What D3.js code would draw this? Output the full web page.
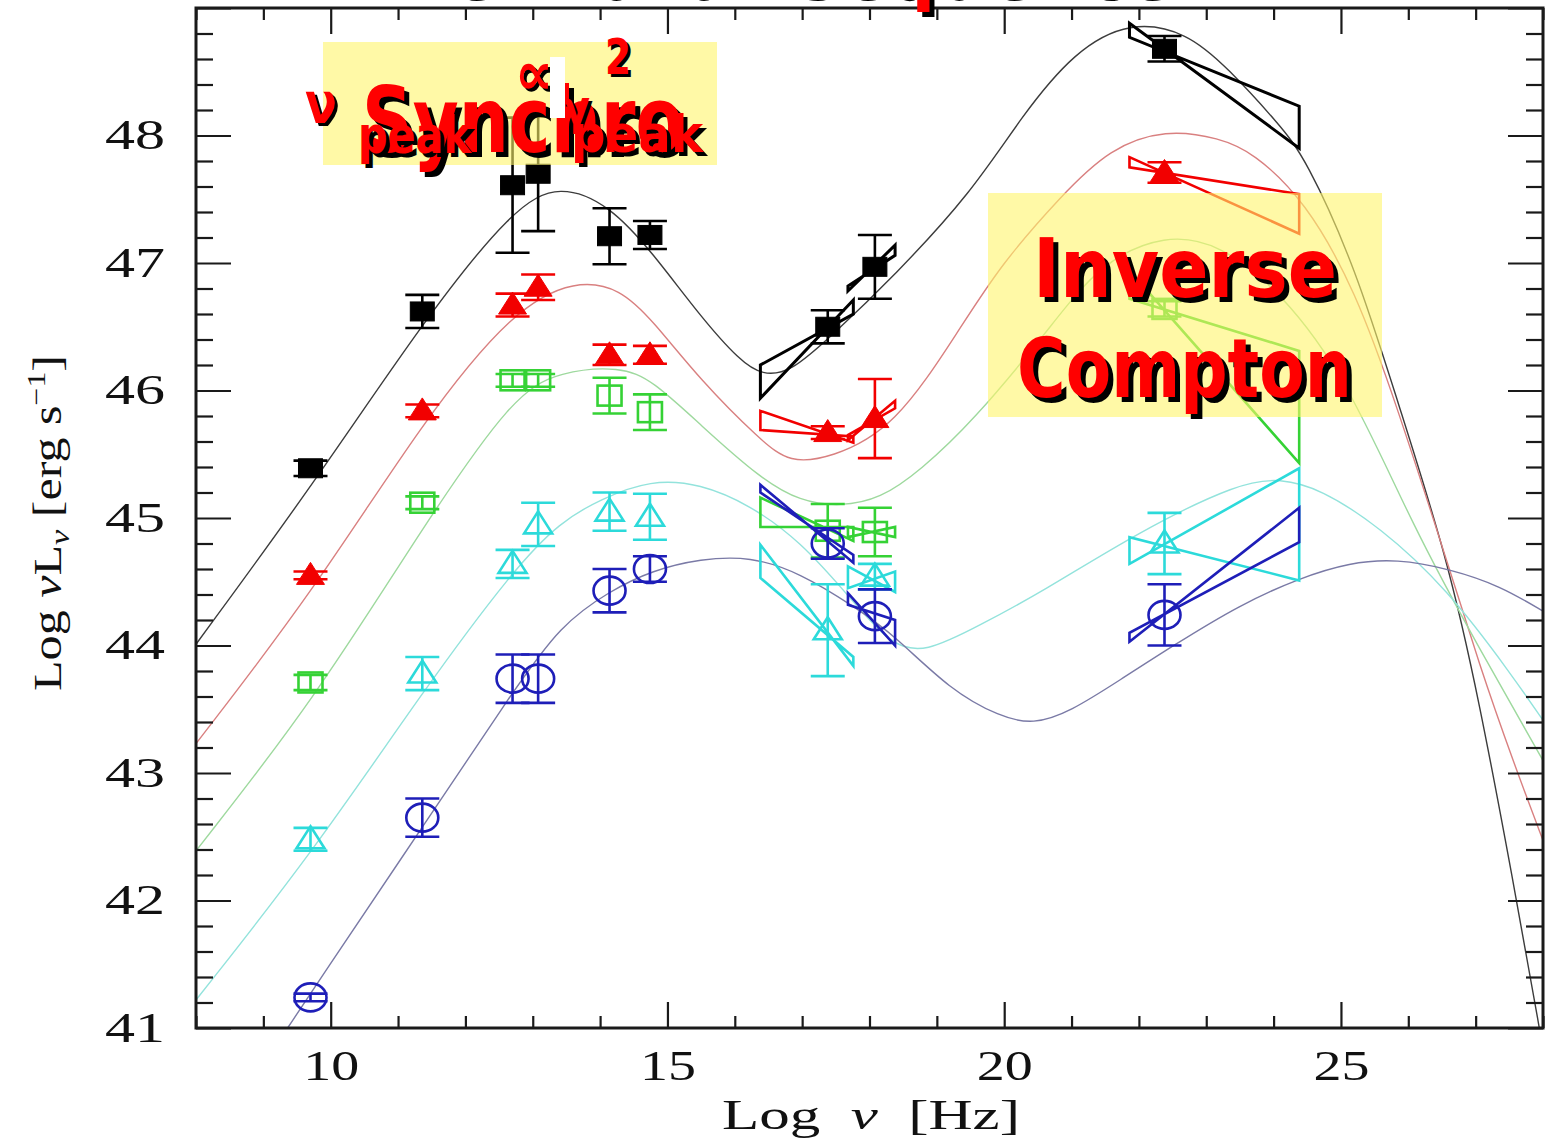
<!DOCTYPE html>
<html>
<head>
<meta charset="utf-8">
<script src="https://cdn.jsdelivr.net/npm/d3@7"></script>
<style>
  html, body { margin: 0; padding: 0; background: #fff; overflow: hidden; }
  svg { display: block; }
</style>
</head>
<body>
<svg id="chart" width="1545" height="1141"></svg>
<script>
// ---------------- data ----------------
// observing bands (log nu, Hz): 5 GHz, 230 GHz, 60um, 25um, K, V, 1 keV, 5 keV, 100 MeV
const bandNu = [9.70, 11.36, 12.70, 13.08, 14.14, 14.74, 17.38, 18.08, 22.38];

// average log(nu L_nu) per luminosity bin, with symmetric errors
const blackL   = [45.39, 46.62, 47.61, 47.70, 47.21, 47.22, 46.50, 46.97, 48.68];
const blackErr = [0.06, 0.13, 0.53, 0.45, 0.22, 0.11, 0.13, 0.25, 0.10];
const redL     = [44.55, 45.84, 46.67, 46.81, 46.28, 46.28, 45.67, 45.78, 47.71];
const redErr   = [0.03, 0.05, 0.09, 0.10, 0.08, 0.07, 0.05, 0.31, 0.08];
const greenL   = [43.71, 45.12, 46.08, 46.08, 45.96, 45.83, 44.90, 44.89, 46.64];
const greenErr = [0.06, 0.05, 0.05, 0.05, 0.14, 0.14, 0.21, 0.19, 0.06];
const cyanL    = [42.48, 43.78, 44.64, 44.95, 45.05, 45.01, 44.12, 44.54, 44.80];
const cyanErr  = [0.09, 0.13, 0.11, 0.17, 0.15, 0.18, 0.36, 0.10, 0.24];
const blueL    = [41.24, 42.65, 43.74, 43.74, 44.43, 44.60, 44.80, 44.23, 44.24];
const blueErr  = [0.03, 0.15, 0.19, 0.19, 0.17, 0.10, 0.12, 0.21, 0.24];

// spectral bowties: [lineA_left, lineA_right, lineB_left, lineB_right]
const softXRange = [16.38, 17.76];
const hardXRange = [17.68, 18.38];
const gammaRange = [21.86, 24.38];
const blackSoft  = [45.94, 46.71, 46.20, 46.60];
const blackHard  = [46.78, 47.14, 46.82, 47.06];
const blackGamma = [48.88, 47.90, 48.77, 48.23];
const redSoft    = [45.84, 45.59, 45.69, 45.64];
const redHard    = [45.61, 45.92, 45.65, 45.86];
const redGamma   = [47.83, 47.23, 47.75, 47.54];
const greenSoft  = [45.16, 44.82, 44.93, 44.93];
const greenHard  = [44.85, 44.93, 44.93, 44.85];
const greenGamma = [46.94, 45.43, 46.72, 46.31];
const cyanSoft   = [44.79, 43.84, 44.53, 43.91];
const cyanHard   = [44.62, 44.42, 44.45, 44.58];
const cyanGamma  = [44.64, 45.39, 44.85, 44.51];
const blueSoft   = [45.26, 44.65, 45.20, 44.71];
const blueHard   = [44.41, 44.00, 44.32, 44.20];
const blueGamma  = [44.03, 45.08, 44.10, 44.81];

// SED model curves, sampled [log nu, log nuL_nu]
const blackModel = [[8.0,44.01],[9.75,45.27],[11.38,46.55],[12.72,47.44],[13.41,47.62],[14.15,47.45],
  [14.78,47.08],[15.49,46.58],[16.08,46.23],[16.41,46.12],[16.82,46.14],[17.42,46.42],[18.37,46.90],
  [19.51,47.55],[20.27,48.16],[21.04,48.66],[21.87,48.90],[22.72,48.81],[23.32,48.53],[24.08,48.09],
  [24.47,47.83],[25.22,46.96],[25.83,45.93],[26.57,44.71],[27.06,43.55],[27.55,42.17],[27.95,41.0],[28.1,40.5]];
const redModel = [[8.0,43.23],[9.75,44.43],[11.38,45.77],[12.72,46.64],[13.64,46.87],[14.30,46.80],
  [14.78,46.55],[15.49,46.08],[16.38,45.61],[16.82,45.43],[17.42,45.47],[18.37,45.70],[19.35,46.49],
  [19.94,46.98],[20.85,47.53],[21.57,47.90],[22.40,48.05],[23.20,47.98],[23.69,47.87],[24.47,47.49],
  [25.22,46.78],[25.83,45.88],[26.57,44.67],[27.06,43.84],[27.55,43.10],[28.03,42.43]];
const greenModel = [[8.0,42.39],[9.75,43.57],[11.38,44.94],[12.72,45.97],[13.41,46.15],[14.30,46.19],
  [14.78,46.08],[15.49,45.73],[16.38,45.31],[16.97,45.13],[17.57,45.09],[18.16,45.15],[18.75,45.37],
  [19.54,45.76],[20.65,46.47],[21.41,47.00],[22.40,47.23],[23.20,47.15],[24.10,46.78],[25.09,46.09],
  [26.07,44.93],[27.06,43.97],[28.03,43.07]];
const cyanModel = [[8.0,41.22],[9.75,42.39],[11.38,43.65],[12.72,44.60],[13.41,44.97],[14.01,45.15],
  [14.75,45.30],[15.49,45.27],[16.23,45.10],[16.97,44.82],[17.72,44.37],[18.31,44.00],[18.83,43.94],
  [19.64,44.16],[20.53,44.41],[22.02,44.90],[23.50,45.28],[24.10,45.31],[24.69,45.23],[25.58,44.93],
  [26.57,44.45],[27.55,43.76],[28.03,43.39]];
const blueModel = [[9.36,41.0],[9.80,41.35],[11.38,42.59],[12.72,43.65],[13.41,44.16],[14.15,44.43],
  [14.78,44.59],[15.49,44.68],[16.23,44.70],[16.97,44.57],[17.79,44.30],[18.37,44.08],[19.20,43.65],
  [19.94,43.44],[20.43,43.38],[20.98,43.48],[21.72,43.73],[22.51,44.00],[23.50,44.32],[24.39,44.53],
  [25.13,44.65],[25.83,44.68],[26.62,44.60],[27.36,44.47],[28.03,44.26]];

// axes
const xMajorTicks = [10, 15, 20, 25];
const yMajorTicks = [41, 42, 43, 44, 45, 46, 47, 48, 49];
const yTickLabels = ["41", "42", "43", "44", "45", "46", "47", "48", ""];

// ---------------- layout ----------------
const svg = d3.select("#chart");
const x = d3.scaleLinear().domain([8, 28]).range([196, 1543]);
const y = d3.scaleLinear().domain([41, 49]).range([1028, 8]);
const X0 = x.range()[0], X1 = x.range()[1], Y0 = y.range()[1], Y1 = y.range()[0];

const series = [
  { L: blackL, err: blackErr, color: "#000000", curveColor: "#3c3c3c", marker: "square",   fill: true,  model: blackModel, soft: blackSoft, hard: blackHard, gamma: blackGamma, bw: 3 },
  { L: redL,   err: redErr,   color: "#f20000", curveColor: "#d98080", marker: "triangle", fill: true,  model: redModel,   soft: redSoft,   hard: redHard,   gamma: redGamma,   bw: 2.6 },
  { L: greenL, err: greenErr, color: "#35d235", curveColor: "#9ed99e", marker: "square",   fill: false, model: greenModel, soft: greenSoft, hard: greenHard, gamma: greenGamma, bw: 2.6 },
  { L: cyanL,  err: cyanErr,  color: "#2cdada", curveColor: "#93e3dc", marker: "triangle", fill: false, model: cyanModel,  soft: cyanSoft,  hard: cyanHard,  gamma: cyanGamma,  bw: 2.6 },
  { L: blueL,  err: blueErr,  color: "#1e1eb8", curveColor: "#7a7aa6", marker: "circle",   fill: false, model: blueModel,  soft: blueSoft,  hard: blueHard,  gamma: blueGamma,  bw: 2.6 }
];

svg.append("defs").append("clipPath").attr("id", "plotClip")
  .append("rect").attr("x", X0).attr("y", Y0).attr("width", X1 - X0).attr("height", Y1 - Y0);

// ---------------- model curves ----------------
const line = d3.line().x(d => x(d[0])).y(d => y(d[1])).curve(d3.curveBasis);
const curveG = svg.append("g").attr("clip-path", "url(#plotClip)");
series.forEach(s => {
  curveG.append("path").attr("d", line(s.model))
    .attr("fill", "none").attr("stroke", s.curveColor).attr("stroke-width", 1.4);
});

// ---------------- bowties, error bars, markers ----------------
const dataG = svg.append("g").attr("clip-path", "url(#plotClip)");
function bowtie(g, range, v, color, w) {
  const pts = [[range[0], v[0]], [range[1], v[1]], [range[1], v[3]], [range[0], v[2]]];
  g.append("path")
    .attr("d", "M" + pts.map(p => x(p[0]) + "," + y(p[1])).join("L") + "Z")
    .attr("fill", "none").attr("stroke", color).attr("stroke-width", w)
    .attr("stroke-linejoin", "miter");
}
const triPath = "M0,-13L14,9L-14,9Z";
series.forEach(s => {
  const g = dataG.append("g");
  bowtie(g, softXRange, s.soft, s.color, s.bw);
  bowtie(g, hardXRange, s.hard, s.color, s.bw);
  bowtie(g, gammaRange, s.gamma, s.color, s.bw);

  const pts = bandNu.map((v, i) => ({ v, L: s.L[i], e: s.err[i] }));
  const eb = g.selectAll(".eb").data(pts).enter().append("g")
    .attr("transform", d => `translate(${x(d.v)},0)`)
    .attr("stroke", s.color).attr("stroke-width", 2.6).attr("fill", "none");
  eb.append("line").attr("x1", 0).attr("x2", 0).attr("y1", d => y(d.L - d.e)).attr("y2", d => y(d.L + d.e));
  eb.append("line").attr("x1", -17).attr("x2", 17).attr("y1", d => y(d.L - d.e)).attr("y2", d => y(d.L - d.e));
  eb.append("line").attr("x1", -17).attr("x2", 17).attr("y1", d => y(d.L + d.e)).attr("y2", d => y(d.L + d.e));

  const m = g.selectAll(".mk").data(pts).enter().append("g")
    .attr("transform", d => `translate(${x(d.v)},${y(d.L)})`);
  const fill = s.fill ? s.color : "none";
  if (s.marker === "square") {
    const w = 24, h = s.fill ? 19 : 20;
    m.append("rect").attr("x", -w / 2).attr("y", -h / 2).attr("width", w).attr("height", h)
      .attr("fill", fill).attr("stroke", s.color).attr("stroke-width", s.fill ? 1 : 2.6);
  } else if (s.marker === "triangle") {
    m.append("path").attr("d", triPath)
      .attr("fill", fill).attr("stroke", s.color).attr("stroke-width", s.fill ? 1 : 2.6);
  } else {
    m.append("ellipse").attr("rx", 16).attr("ry", 14)
      .attr("fill", "none").attr("stroke", s.color).attr("stroke-width", 2.6);
  }
});

// ---------------- axes and frame ----------------
const serif = "'Liberation Serif', 'DejaVu Serif', serif";
const minorX = d3.range(8, 29).filter(v => v % 5 !== 0);
const minorY = d3.range(41, 49.01, 0.2).map(v => +v.toFixed(1)).filter(v => Math.abs(v - Math.round(v)) > 1e-6);

function styleAxis(g) {
  g.select(".domain").remove();
  g.selectAll(".tick line").attr("stroke", "#1a1a1a").attr("stroke-width", 2.2);
}
// bottom
svg.append("g").attr("transform", `translate(0,${Y1})`)
  .call(d3.axisBottom(x).tickValues(minorX).tickSize(-12).tickFormat("")).call(styleAxis);
const xb = svg.append("g").attr("transform", `translate(0,${Y1})`)
  .call(d3.axisBottom(x).tickValues(xMajorTicks).tickSize(-26).tickPadding(22).tickFormat(d3.format("d")))
  .call(styleAxis);
xb.selectAll("text").attr("font-family", serif).attr("font-size", 42).attr("fill", "#111")
  .attr("textLength", 56).attr("lengthAdjust", "spacingAndGlyphs");
// top
svg.append("g").attr("transform", `translate(0,${Y0})`)
  .call(d3.axisTop(x).tickValues(minorX).tickSize(-12).tickFormat("")).call(styleAxis);
svg.append("g").attr("transform", `translate(0,${Y0})`)
  .call(d3.axisTop(x).tickValues(xMajorTicks).tickSize(-26).tickFormat("")).call(styleAxis);
// left
svg.append("g").attr("transform", `translate(${X0},0)`)
  .call(d3.axisLeft(y).tickValues(minorY).tickSize(-17).tickFormat("")).call(styleAxis);
const yl = svg.append("g").attr("transform", `translate(${X0},0)`)
  .call(d3.axisLeft(y).tickValues(yMajorTicks).tickSize(-35).tickPadding(31)
    .tickFormat((d, i) => yTickLabels[i]))
  .call(styleAxis);
yl.selectAll("text").attr("font-family", serif).attr("font-size", 42).attr("fill", "#111")
  .attr("textLength", d => d === 49 ? null : 60).attr("lengthAdjust", "spacingAndGlyphs");
// right
svg.append("g").attr("transform", `translate(${X1},0)`)
  .call(d3.axisRight(y).tickValues(minorY).tickSize(-17).tickFormat("")).call(styleAxis);
svg.append("g").attr("transform", `translate(${X1},0)`)
  .call(d3.axisRight(y).tickValues(yMajorTicks).tickSize(-35).tickFormat("")).call(styleAxis);

svg.append("rect").attr("x", X0).attr("y", Y0).attr("width", X1 - X0).attr("height", Y1 - Y0)
  .attr("fill", "none").attr("stroke", "#1a1a1a").attr("stroke-width", 3);

// axis titles
const xt = svg.append("text").attr("x", 722).attr("y", 1129)
  .attr("font-family", serif).attr("font-size", 42).attr("fill", "#111")
  .attr("textLength", 298).attr("lengthAdjust", "spacingAndGlyphs");
xt.append("tspan").text("Log\u2002");
xt.append("tspan").attr("font-style", "italic").text("\u03bd");
xt.append("tspan").text("\u2002[Hz]");

const yt = svg.append("text").attr("transform", "translate(61,523) rotate(-90)")
  .attr("text-anchor", "middle")
  .attr("font-family", serif).attr("font-size", 41).attr("fill", "#111")
  .attr("textLength", 336).attr("lengthAdjust", "spacingAndGlyphs");
yt.append("tspan").text("Log ");
yt.append("tspan").attr("font-style", "italic").text("\u03bd");
yt.append("tspan").text("L");
yt.append("tspan").attr("font-style", "italic").attr("font-size", 28).attr("dy", 8).text("\u03bd");
yt.append("tspan").attr("dy", -8).text(" [erg s");
yt.append("tspan").attr("font-size", 26).attr("dy", -16).text("\u22121");
yt.append("tspan").attr("dy", 16).text("]");

// ---------------- annotation boxes ----------------
const boxFill = "#fff56a";
svg.append("rect").attr("x", 323).attr("y", 42).attr("width", 394).attr("height", 123)
  .attr("fill", boxFill).attr("fill-opacity", 0.6);
svg.append("rect").attr("x", 988).attr("y", 193).attr("width", 394).attr("height", 224)
  .attr("fill", boxFill).attr("fill-opacity", 0.6);

const comic = "'DejaVu Sans', 'Open Sans', sans-serif";
function shadowText(str, tx, ty, size, len, off) {
  const o = off || 4;
  [["#000", o], ["#ff0000", 0]].forEach(([c, d]) => {
    const t = svg.append("text").attr("x", tx + d).attr("y", ty + d)
      .attr("font-family", comic).attr("font-weight", "bold").attr("font-size", size)
      .attr("fill", c).text(str);
    if (len) t.attr("textLength", len).attr("lengthAdjust", "spacingAndGlyphs");
  });
}

// title (runs off the top edge)
shadowText("The Blazar Sequence", 350, -5, 80, 820, 5);

// synchrotron box
shadowText("Synchro", 362, 152, 90, 322, 5);
shadowText("\u03bd", 305, 123, 56, 32, 3);
shadowText("peak", 358, 153, 52, 113, 4);
shadowText("\u221d", 515, 94, 60, 38, 3);
shadowText("\u03b3", 562, 124, 48, 28, 3);
shadowText("2", 605, 74, 50, 26, 3);
shadowText("peak", 571, 152, 52, 132, 4);
svg.append("rect").attr("x", 550).attr("y", 57).attr("width", 15).attr("height", 61).attr("fill", "#fff");

// inverse Compton box
shadowText("Inverse", 1033, 297, 82, 304, 5);
shadowText("Compton", 1017, 397, 82, 335, 5);
</script>
</body>
</html>
